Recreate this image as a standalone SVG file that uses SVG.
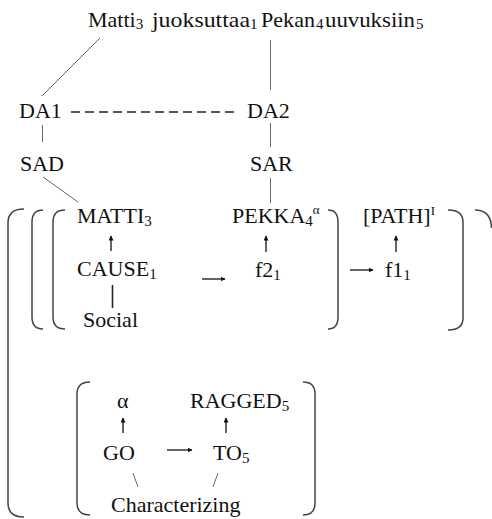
<svg xmlns="http://www.w3.org/2000/svg" width="492" height="519" viewBox="0 0 492 519">
<style>
text{font-family:"Liberation Serif","Times New Roman",serif;font-size:22px;fill:#111}
.sub{font-size:15px}
.sup{font-size:13px}
.ln{stroke:#666;stroke-width:1;fill:none}
.br{stroke:#444;stroke-width:1.5;fill:none}
.ar{stroke:#111;stroke-width:1.3;fill:none;marker-end:url(#ah)}
</style>
<defs>
<marker id="ah" viewBox="0 0 10 10" refX="9" refY="5" markerWidth="5" markerHeight="5" markerUnits="userSpaceOnUse" orient="auto">
<path d="M0,0 L10,5 L0,10 z" fill="#111"/>
</marker>
</defs>
<rect width="492" height="519" fill="#fff"/>
<g id="sentence">
<text x="88" y="27">Matti<tspan class="sub" dy="2">3</tspan></text>
<text x="152" y="27" textLength="98" lengthAdjust="spacingAndGlyphs">juoksuttaa</text><text class="sub" x="250" y="29">1</text>
<text x="261" y="27" textLength="54" lengthAdjust="spacingAndGlyphs">Pekan</text><text class="sub" x="316" y="29">4</text>
<text x="325" y="27" textLength="90" lengthAdjust="spacingAndGlyphs">uuvuksiin</text><text class="sub" x="416" y="29">5</text>
</g>
<g id="DA1"><text x="19" y="118">DA1</text></g>
<g id="DA2"><text x="247" y="118">DA2</text></g>
<g id="SAD"><text x="20" y="171">SAD</text></g>
<g id="SAR"><text x="250" y="171">SAR</text></g>
<g id="MATTI"><text x="77" y="223">MATTI<tspan class="sub" dy="3">3</tspan></text></g>
<g id="CAUSE"><text x="77" y="276">CAUSE<tspan class="sub" dy="3">1</tspan></text></g>
<g id="Social"><text x="83" y="327">Social</text></g>
<g id="PEKKA"><text x="232" y="223">PEKKA<tspan class="sub" dy="3">4</tspan><tspan class="sup" dy="-12">α</tspan></text></g>
<g id="f2"><text x="255" y="277">f2<tspan class="sub" dy="3">1</tspan></text></g>
<g id="PATH"><text x="363" y="223">[PATH]<tspan class="sup" dy="-8">I</tspan></text></g>
<g id="f1"><text x="385" y="277">f1<tspan class="sub" dy="3">1</tspan></text></g>
<g id="alpha"><text x="117" y="408">α</text></g>
<g id="RAGGED"><text x="190" y="408">RAGGED<tspan class="sub" dy="3">5</tspan></text></g>
<g id="GO"><text x="103" y="460">GO</text></g>
<g id="TO"><text x="213" y="460">TO<tspan class="sub" dy="3">5</tspan></text></g>
<g id="Characterizing"><text x="111" y="512">Characterizing</text></g>
<g id="brackets">
<path class="br" d="M24,209 Q8,209 8,223 L8,503 Q8,517 24,517"/>
<path class="br" d="M43,210 Q32,210 32,222 L32,317 Q32,329 43,329"/>
<path class="br" d="M65,210 Q53,210 53,222 L53,317 Q53,329 65,329"/>
<path class="br" d="M328,210 Q338,210 338,222 L338,317 Q338,329 328,329"/>
<path class="br" d="M448,210 Q463,210 463,222 L463,318 Q463,330 448,330"/>
<path class="br" d="M475,210 Q491,210 491.5,228"/>
<path class="br" d="M90,382 Q77,382 77,394 L77,503 Q77,515 90,515"/>
<path class="br" d="M303,382 Q315,382 315,394 L315,503 Q315,515 303,515"/>
</g>
<g id="connectors">
<line class="ln" x1="100" y1="38" x2="42" y2="96"/>
<line class="ln" x1="270.5" y1="40" x2="270.5" y2="90"/>
<line x1="71" y1="112" x2="235" y2="112" stroke="#222" stroke-width="1.3" stroke-dasharray="9,5"/>
<line class="ln" x1="42.5" y1="125" x2="42.5" y2="142"/>
<line class="ln" x1="270.5" y1="123" x2="270.5" y2="147"/>
<line class="ln" x1="43" y1="177" x2="78" y2="202"/>
<line class="ln" x1="270.5" y1="178" x2="270.5" y2="203"/>
<line x1="112.5" y1="285" x2="112.5" y2="308" stroke="#222" stroke-width="1.6"/>
<line class="ar" x1="111" y1="251" x2="111" y2="236"/>
<line class="ar" x1="266" y1="252" x2="266" y2="236"/>
<line class="ar" x1="396" y1="252" x2="396" y2="236"/>
<line class="ar" x1="202" y1="279" x2="225" y2="279"/>
<line class="ar" x1="350" y1="270" x2="373" y2="270"/>
<line class="ar" x1="123" y1="433" x2="123" y2="418"/>
<line class="ar" x1="226" y1="433" x2="226" y2="418"/>
<line class="ar" x1="167" y1="450" x2="192" y2="450"/>
<line class="ln" x1="133" y1="473" x2="138" y2="487"/>
<line class="ln" x1="218" y1="473" x2="213" y2="487"/>
</g>
</svg>
